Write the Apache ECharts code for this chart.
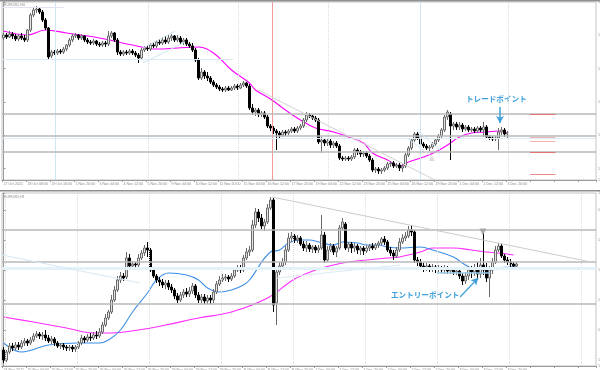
<!DOCTYPE html>
<html><head><meta charset="utf-8">
<script src="https://cdn.jsdelivr.net/npm/echarts@6/dist/echarts.min.js"></script>
<style>html,body{margin:0;padding:0;background:#fff;}#chart{width:600px;height:370px;}</style>
</head><body><div id="chart"></div>
<script>
// ================= DATA =================
// Top panel: EURUSD H4 (prices x10000)
const topTickLabels = ["27 Oct 2021","28 Oct 08:00","29 Oct 16:00","1 Nov 20:00","3 Nov 04:00","4 Nov 12:00","5 Nov 20:00","9 Nov 04:00","10 Nov 12:00","11 Nov 20:00","15 Nov 04:00","16 Nov 12:00","17 Nov 20:00","19 Nov 04:00","22 Nov 12:00","23 Nov 20:00","25 Nov 04:00","26 Nov 12:00","29 Nov 20:00","1 Dec 04:00","2 Dec 12:00","3 Dec 20:00"];
const topOpen = [11592,11601,11595,11604,11598,11589,11598,11592,11586,11616,11661,11676,11679,11670,11646,11622,11538,11550,11547,11553,11550,11559,11571,11586,11598,11601,11592,11598,11586,11580,11577,11583,11574,11571,11577,11574,11598,11607,11586,11550,11544,11550,11547,11553,11547,11541,11532,11556,11562,11559,11571,11568,11580,11577,11586,11580,11592,11598,11586,11592,11580,11586,11574,11568,11556,11526,11472,11490,11478,11472,11460,11451,11445,11439,11436,11442,11436,11442,11448,11442,11451,11457,11448,11382,11370,11376,11364,11367,11355,11328,11322,11313,11307,11301,11310,11307,11313,11319,11313,11322,11328,11346,11361,11358,11352,11346,11280,11286,11277,11283,11271,11277,11268,11232,11229,11232,11229,11235,11256,11250,11244,11247,11238,11226,11196,11199,11193,11196,11202,11214,11217,11208,11211,11202,11208,11241,11262,11286,11304,11292,11274,11268,11262,11265,11274,11286,11298,11316,11355,11364,11328,11334,11325,11331,11319,11325,11316,11319,11313,11322,11316,11325,11295,11292,11289,11292,11310,11316,11304];
const topClose = [11601,11595,11604,11598,11589,11598,11592,11586,11616,11661,11676,11679,11670,11646,11622,11535,11550,11547,11553,11550,11559,11571,11586,11598,11601,11592,11598,11586,11580,11577,11583,11574,11571,11577,11574,11598,11607,11586,11550,11544,11550,11547,11553,11547,11541,11532,11556,11562,11559,11571,11568,11580,11577,11586,11580,11592,11598,11586,11592,11580,11586,11574,11568,11556,11526,11472,11490,11478,11472,11460,11451,11445,11439,11436,11442,11436,11442,11448,11442,11451,11457,11448,11382,11370,11376,11364,11367,11355,11328,11322,11313,11307,11301,11310,11307,11313,11319,11313,11322,11328,11346,11361,11358,11352,11346,11280,11286,11277,11283,11271,11277,11268,11232,11229,11232,11229,11235,11256,11250,11244,11247,11238,11226,11196,11199,11193,11196,11202,11214,11217,11208,11211,11202,11208,11241,11262,11286,11304,11292,11274,11268,11262,11265,11274,11286,11298,11316,11355,11370,11328,11334,11325,11331,11319,11325,11316,11319,11313,11322,11316,11325,11295,11292,11289,11292,11310,11316,11304,11307];
const topLow = [11586,11589,11592,11589,11583,11583,11586,11580,11580,11610,11655,11667,11664,11640,11616,11529,11532,11541,11541,11544,11544,11553,11565,11580,11592,11586,11586,11580,11574,11571,11571,11568,11565,11565,11565,11568,11592,11580,11541,11538,11538,11541,11541,11541,11535,11517,11526,11550,11553,11553,11562,11562,11571,11571,11574,11574,11583,11580,11580,11574,11571,11568,11562,11550,11520,11466,11466,11469,11463,11454,11445,11439,11433,11430,11430,11433,11433,11436,11436,11439,11445,11442,11376,11361,11358,11355,11355,11349,11322,11313,11304,11256,11289,11295,11298,11301,11307,11307,11307,11316,11322,11340,11352,11346,11340,11274,11247,11268,11268,11262,11262,11262,11226,11223,11223,11223,11223,11229,11241,11235,11235,11232,11220,11190,11187,11184,11184,11190,11196,11205,11202,11202,11193,11190,11202,11235,11256,11280,11286,11268,11262,11256,11253,11259,11268,11280,11292,11310,11346,11226,11316,11316,11316,11310,11313,11310,11310,11307,11307,11310,11295,11289,11286,11283,11283,11256,11301,11295,11292];
const topHigh = [11607,11607,11613,11610,11604,11604,11607,11601,11619,11667,11685,11688,11685,11676,11652,11625,11556,11556,11559,11559,11565,11574,11592,11604,11607,11604,11604,11601,11592,11586,11589,11586,11580,11583,11583,11613,11613,11610,11592,11556,11556,11556,11559,11559,11553,11547,11562,11568,11571,11577,11580,11586,11589,11595,11598,11601,11604,11601,11601,11598,11592,11592,11580,11577,11562,11532,11502,11496,11490,11478,11466,11457,11451,11445,11448,11448,11448,11454,11454,11457,11463,11460,11454,11394,11382,11382,11373,11373,11361,11334,11328,11319,11313,11316,11316,11319,11325,11325,11328,11334,11352,11370,11367,11361,11358,11352,11295,11292,11289,11289,11283,11283,11274,11238,11238,11238,11241,11262,11262,11256,11253,11253,11244,11232,11205,11205,11202,11208,11220,11223,11223,11217,11217,11214,11247,11268,11292,11310,11310,11298,11280,11274,11271,11280,11292,11304,11322,11361,11376,11370,11340,11340,11340,11337,11331,11331,11325,11325,11328,11328,11340,11331,11301,11298,11298,11322,11325,11322,11313];
// Top moving average (magenta), read at bar indices
const topMaIdx = [0,8,14,21,32,43,51,58,65,70,76,82,84,89,94,99,104,110,115,120,123,128,132,135,140,144,148,152,156,161,165,168];
const topMaVal = [11613,11601,11616,11607,11592,11571,11559,11562,11565,11547,11496,11457,11436,11409,11376,11346,11322,11310,11295,11277,11247,11226,11208,11220,11235,11250,11271,11295,11307,11310,11313,11307];

// Bottom panel: EURUSD H1 (prices x10000)
const bottomTickLabels = ["24 Nov 2021","25 Nov 04:00","25 Nov 12:00","25 Nov 20:00","26 Nov 04:00","26 Nov 12:00","26 Nov 20:00","29 Nov 04:00","29 Nov 12:00","29 Nov 20:00","30 Nov 04:00","30 Nov 12:00","30 Nov 20:00","1 Dec 04:00","1 Dec 12:00","1 Dec 20:00","2 Dec 04:00","2 Dec 12:00","2 Dec 20:00","3 Dec 04:00","3 Dec 12:00","3 Dec 20:00"];
const botOpen = [11230,11220,11228,11234,11232,11235,11233,11237,11239,11237,11240,11244,11246,11244,11245,11242,11239,11241,11237,11234,11235,11233,11232,11233,11231,11233,11237,11242,11240,11243,11242,11245,11244,11248,11255,11262,11268,11280,11290,11300,11304,11303,11322,11314,11316,11315,11322,11327,11332,11330,11310,11304,11300,11298,11295,11297,11293,11290,11284,11280,11285,11288,11286,11289,11294,11285,11280,11283,11279,11282,11280,11288,11296,11300,11302,11303,11301,11304,11310,11312,11310,11322,11328,11330,11355,11368,11362,11354,11358,11372,11380,11277,11308,11314,11318,11330,11342,11344,11340,11342,11336,11332,11335,11331,11333,11330,11332,11345,11320,11330,11334,11328,11332,11352,11356,11332,11336,11332,11334,11330,11332,11329,11332,11334,11332,11335,11337,11341,11338,11330,11327,11324,11330,11338,11342,11344,11350,11348,11320,11318,11314,11312,11314,11312,11313,11311,11312,11310,11312,11309,11310,11308,11309,11304,11299,11304,11310,11308,11312,11306,11315,11312,11302,11310,11318,11330,11334,11324,11320,11318,11316,11314];
const botClose = [11220,11228,11234,11232,11235,11233,11237,11239,11237,11240,11244,11246,11244,11245,11242,11239,11241,11237,11234,11235,11233,11232,11233,11231,11233,11237,11242,11240,11243,11242,11245,11244,11248,11255,11262,11268,11280,11290,11300,11304,11302,11322,11314,11316,11315,11322,11327,11332,11330,11310,11304,11300,11298,11295,11297,11293,11290,11284,11280,11285,11288,11286,11289,11294,11285,11280,11283,11279,11282,11280,11288,11296,11300,11302,11303,11301,11304,11310,11312,11310,11322,11328,11330,11355,11368,11362,11354,11358,11372,11380,11275,11308,11314,11318,11330,11342,11344,11340,11342,11336,11332,11335,11331,11333,11330,11332,11345,11320,11330,11334,11328,11332,11352,11358,11332,11336,11332,11334,11330,11332,11329,11332,11334,11332,11335,11337,11341,11338,11330,11327,11324,11330,11338,11342,11344,11350,11348,11320,11318,11314,11312,11314,11312,11313,11311,11312,11310,11312,11309,11310,11308,11309,11304,11299,11304,11310,11308,11312,11306,11315,11312,11302,11310,11318,11330,11334,11324,11320,11318,11316,11314,11316];
const botLow = [11217,11218,11226,11229,11230,11230,11231,11234,11234,11235,11238,11242,11241,11240,11239,11237,11236,11234,11232,11231,11230,11229,11229,11228,11228,11231,11235,11237,11238,11239,11240,11241,11242,11246,11253,11260,11266,11278,11288,11297,11299,11301,11312,11312,11312,11313,11320,11324,11323,11308,11302,11297,11294,11292,11291,11290,11287,11281,11277,11278,11282,11283,11283,11286,11282,11277,11277,11276,11276,11276,11277,11286,11294,11298,11299,11298,11299,11302,11308,11307,11308,11320,11324,11328,11352,11358,11351,11349,11356,11370,11268,11255,11305,11310,11315,11328,11338,11337,11337,11334,11329,11328,11328,11327,11327,11327,11330,11317,11318,11328,11325,11323,11330,11349,11330,11328,11327,11328,11326,11325,11325,11327,11329,11330,11330,11332,11335,11335,11328,11324,11320,11322,11328,11336,11339,11342,11344,11317,11314,11310,11308,11309,11308,11308,11307,11308,11307,11306,11306,11306,11305,11305,11301,11295,11296,11300,11302,11304,11300,11302,11305,11298,11283,11306,11316,11328,11322,11317,11315,11312,11312,11311];
const botHigh = [11233,11230,11237,11237,11238,11238,11240,11242,11241,11243,11247,11249,11248,11248,11250,11245,11244,11243,11239,11237,11237,11235,11235,11235,11235,11239,11245,11244,11246,11247,11248,11249,11252,11258,11266,11270,11285,11294,11304,11308,11307,11328,11326,11319,11318,11326,11330,11335,11338,11332,11312,11306,11303,11301,11300,11300,11296,11292,11287,11288,11291,11292,11293,11297,11296,11288,11286,11286,11285,11285,11291,11299,11304,11306,11306,11305,11307,11313,11315,11315,11325,11332,11334,11360,11372,11371,11366,11361,11376,11383,11382,11312,11318,11322,11334,11347,11348,11346,11345,11344,11339,11339,11337,11335,11335,11335,11365,11348,11334,11337,11336,11334,11355,11362,11358,11338,11338,11337,11336,11334,11334,11335,11336,11337,11337,11339,11343,11344,11340,11333,11330,11333,11342,11346,11348,11354,11355,11350,11323,11321,11317,11317,11316,11316,11315,11315,11314,11315,11314,11313,11312,11312,11311,11307,11308,11314,11314,11316,11318,11322,11347,11317,11314,11322,11334,11337,11336,11326,11323,11321,11318,11318];
// Bottom moving averages
const botBlueIdx = [0,6,15,25,32,35,39,43,48,51,55,61,65,68,72,76,80,82,89,92,95,99,102,105,110,113,118,121,125,128,132,139,143,150,154,158,162,165,169,171];
const botBlueVal = [11237,11228,11235,11237,11237,11240,11250,11268,11287,11300,11307,11305,11300,11292,11288,11290,11295,11300,11328,11330,11337,11340,11340,11338,11335,11338,11337,11335,11335,11333,11332,11333,11330,11323,11315,11310,11310,11312,11313,11314];
const botMagIdx = [0,10,21,30,36,45,54,65,76,88,97,104,110,115,121,128,132,139,143,150,156,161,165,170];
const botMagVal = [11263,11258,11252,11247,11247,11250,11255,11262,11268,11282,11301,11310,11315,11318,11320,11322,11323,11328,11332,11332,11330,11328,11327,11325];

// ================= CHART =================
const SLOTS = 198;
const cats = Array.from({length: SLOTS}, (_, i) => String(i));
const toCandles = (o, c, l, h) => o.map((v, i) => [v, c[i], l[i], h[i]]);
const toPairs = (ix, v) => ix.map((x, i) => [x, v[i]]);

const GRAY = '#b8b8b8', LBLUE = '#cde6f3', RED = '#f29a9a', BLUE_TXT = '#3d9fdb';
const hLine = (v, color, width) => ({ yAxis: v, lineStyle: { color, width, type: 'solid' } });
const vLine = (v, color, width, type) => ({ xAxis: v, lineStyle: { color, width, type: type || 'solid' } });
const seg = (x1, y1, x2, y2, color, width, arrow) => [
  { coord: [x1, y1], symbol: 'none', lineStyle: { color, width, type: 'solid' } },
  { coord: [x2, y2], symbol: arrow ? 'arrow' : 'none', symbolSize: arrow ? [6, 7] : 0 }
];

const candleStyle = { color: '#e4e4e4', color0: '#000000', borderColor: '#6a6a6a', borderColor0: '#000000', borderWidth: 1 };
const axisFont = { fontSize: 3.6, color: '#8a8a8a', fontFamily: 'Liberation Sans' };

const chart = echarts.init(document.getElementById('chart'), null, { renderer: 'canvas' });
chart.setOption({
  animation: false,
  backgroundColor: '#ffffff',
  grid: [
    { left: 2, top: 2, width: 594, height: 178, show: true, borderColor: '#c4c4c4', borderWidth: 1, containLabel: false, outerBoundsMode: 'none' },
    { left: 2, top: 193, width: 594, height: 173, show: true, borderColor: '#c4c4c4', borderWidth: 1, containLabel: false, outerBoundsMode: 'none' }
  ],
  xAxis: [
    { type: 'category', gridIndex: 0, data: cats, boundaryGap: true,
      axisLine: { lineStyle: { color: '#9a9a9a', width: 1 } },
      axisTick: { show: true, interval: 7, length: 2, lineStyle: { color: '#9a9a9a' } },
      axisLabel: Object.assign({ interval: 7, margin: 1.5, align: 'left', formatter: (v, i) => topTickLabels[i / 8] || '' }, axisFont),
      splitLine: { show: false } },
    { type: 'category', gridIndex: 1, data: cats, boundaryGap: true,
      axisLine: { lineStyle: { color: '#9a9a9a', width: 1 } },
      axisTick: { show: true, interval: 7, length: 2, lineStyle: { color: '#9a9a9a' } },
      axisLabel: Object.assign({ interval: 7, margin: 1.5, align: 'left', formatter: (v, i) => bottomTickLabels[i / 8] || '' }, axisFont),
      splitLine: { show: false } },
    { type: 'value', gridIndex: 0, min: -0.5, max: SLOTS - 0.5, show: false },
    { type: 'value', gridIndex: 1, min: -0.5, max: SLOTS - 0.5, show: false }
  ],
  yAxis: [
    { type: 'value', gridIndex: 0, position: 'right', min: 11166, max: 11700, scale: true,
      axisLine: { show: true, lineStyle: { color: '#9a9a9a' } }, axisTick: { show: true, length: 2 },
      axisLabel: Object.assign({ margin: 2, formatter: v => (v / 10000).toFixed(4) }, axisFont), splitLine: { show: false } },
    { type: 'value', gridIndex: 1, position: 'right', min: 11214, max: 11387, scale: true,
      axisLine: { show: true, lineStyle: { color: '#9a9a9a' } }, axisTick: { show: true, length: 2 },
      axisLabel: Object.assign({ margin: 2, formatter: v => (v / 10000).toFixed(4) }, axisFont), splitLine: { show: false } }
  ],
  series: [
    // ----- top panel -----
    { type: 'line', xAxisIndex: 2, yAxisIndex: 0, data: toPairs(topMaIdx, topMaVal), smooth: 0.4, symbol: 'none',
      lineStyle: { color: '#ff00ff', width: 1.1 }, z: 3,
      markLine: { silent: true, symbol: ['none', 'none'], label: { show: false }, animation: false,
        data: [
          vLine(48.2, '#dcdcdc', 1, 'dotted'), vLine(78.2, '#dcdcdc', 1, 'dotted'),
          vLine(108.2, '#dcdcdc', 1, 'dotted'), vLine(168.2, '#dcdcdc', 1, 'dotted'),
          vLine(17.2, LBLUE, 1), vLine(138.8, LBLUE, 1), vLine(89.5, RED, 1),
          hLine(11364, GRAY, 1.5), hLine(11298, GRAY, 1.5), hLine(11250, GRAY, 1.5), hLine(11292, '#dcedf7', 1),
          seg(-0.5, 11529, 76.5, 11529, '#dde9f3', 1), seg(-0.5, 11685, 20, 11685, '#e2e2f4', 1),
          seg(84.8, 11436, 143.8, 11166, '#d2d2d2', 1),
          seg(46.5, 11562, 57.2, 11613, LBLUE, 1), seg(46.5, 11517, 60.5, 11580, LBLUE, 1),
          seg(137.8, 11316, 145.5, 11256, LBLUE, 1), seg(134.5, 11292, 142.5, 11238, LBLUE, 1),
          seg(175.5, 11364, 184, 11364, '#e57373', 1), seg(175.5, 11295, 184, 11295, '#f3b4b4', 1),
          seg(175.5, 11283, 184, 11283, '#f3b4b4', 1), seg(175.5, 11250, 184, 11250, '#e57373', 1),
          seg(175.5, 11184, 184, 11184, '#ee8a8a', 1),
          seg(165.5, 11385, 165.5, 11337, BLUE_TXT, 1.5, true)
        ] } },
    { type: 'candlestick', xAxisIndex: 0, yAxisIndex: 0, data: toCandles(topOpen, topClose, topLow, topHigh),
      barWidth: 2, itemStyle: candleStyle, z: 4 },
    { type: 'scatter', xAxisIndex: 2, yAxisIndex: 0, data: [[142.8, 11232]], symbol: 'triangle', symbolSize: 6,
      itemStyle: { color: '#d4d4d4' }, z: 5 },
    // ----- bottom panel -----
    { type: 'line', xAxisIndex: 3, yAxisIndex: 1, data: toPairs(botMagIdx, botMagVal), smooth: 0.4, symbol: 'none',
      lineStyle: { color: '#ff2bff', width: 1.1 }, z: 3,
      markLine: { silent: true, symbol: ['none', 'none'], label: { show: false }, animation: false,
        data: [
          vLine(0.5, '#dcdcdc', 1, 'dotted'), vLine(24.5, '#dcdcdc', 1, 'dotted'), vLine(48.5, '#dcdcdc', 1, 'dotted'),
          vLine(72.5, '#dcdcdc', 1, 'dotted'), vLine(96.5, '#dcdcdc', 1, 'dotted'), vLine(120.5, '#dcdcdc', 1, 'dotted'),
          vLine(144.5, '#dcdcdc', 1, 'dotted'), vLine(168.5, '#dcdcdc', 1, 'dotted'), vLine(192.5, '#dcdcdc', 1, 'dotted'),
          hLine(11350, GRAY, 1.5), hLine(11318, GRAY, 1.5), hLine(11276, GRAY, 1.5),
          hLine(11312, '#e3f1f9', 3),
          seg(144.5, 11307, 162.2, 11307, '#9dcbea', 1.5),
          seg(89.5, 11383, 197.5, 11317, '#cccccc', 1),
          seg(-0.5, 11325, 45.5, 11297, '#d6e8f4', 1),
          seg(91.2, 11302, 132.2, 11315, '#dcebf5', 1),
          seg(152.2, 11283, 158.2, 11302, BLUE_TXT, 1.2, true)
        ] } },
    { type: 'line', xAxisIndex: 3, yAxisIndex: 1, data: toPairs(botBlueIdx, botBlueVal), smooth: 0.4, symbol: 'none',
      lineStyle: { color: '#3d8fe6', width: 1.1 }, z: 3 },
    { type: 'candlestick', xAxisIndex: 1, yAxisIndex: 1, data: toCandles(botOpen, botClose, botLow, botHigh),
      barWidth: 2, itemStyle: candleStyle, z: 4 },
    { type: 'scatter', xAxisIndex: 3, yAxisIndex: 1, data: [[159.8, 11348]], symbol: 'triangle', symbolRotate: 180, symbolSize: 7,
      itemStyle: { color: '#9a9a9a' }, z: 5 }
  ],
  graphic: [
    { type: 'rect', shape: { x: 0, y: 0, width: 600, height: 1.5 }, style: { fill: '#8f8f8f' }, silent: true },
    { type: 'rect', shape: { x: 0, y: 190, width: 600, height: 1.5 }, style: { fill: '#8f8f8f' }, silent: true },
    { type: 'text', left: 4, top: 3, style: { text: 'EURUSD,H4', fontSize: 3.6, fill: '#8a8a8a', fontFamily: 'Liberation Sans' } },
    { type: 'text', left: 4, top: 195, style: { text: 'EURUSD,H1', fontSize: 3.6, fill: '#8a8a8a', fontFamily: 'Liberation Sans' } },
    { type: 'text', left: 466, top: 95, style: { text: 'トレードポイント', fontSize: 7.6, fontWeight: 'bold', fill: BLUE_TXT, fontFamily: 'Noto Sans CJK JP' } },
    { type: 'text', left: 391, top: 291, style: { text: 'エントリーポイント', fontSize: 7.6, fontWeight: 'bold', fill: BLUE_TXT, fontFamily: 'Noto Sans CJK JP' } }
  ]
});
</script>
</body></html>
